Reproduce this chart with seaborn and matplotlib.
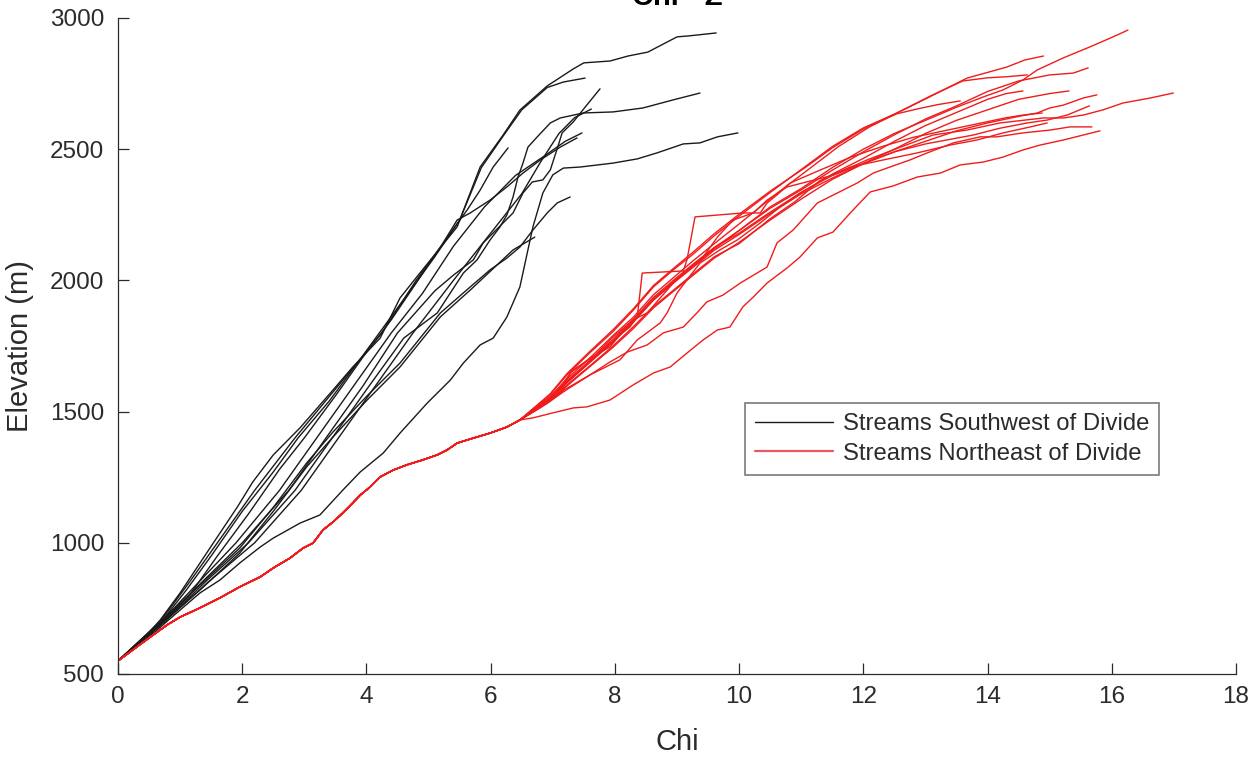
import matplotlib
matplotlib.use("Agg")
import matplotlib.pyplot as plt
import seaborn as sns
import pandas as pd
from matplotlib.lines import Line2D

# ---------------- data (chi, elevation in m) ----------------
SW1 = [(0, 550), (0.35, 620), (0.68, 706), (1.0, 809), (1.48, 980), (1.92, 1136), (2.17, 1232), (2.5, 1335),
       (2.93, 1438), (3.46, 1582), (3.78, 1670), (4.22, 1780), (4.54, 1933), (4.86, 2028), (5.46, 2204),
       (5.83, 2432), (6.2, 2554), (6.47, 2649), (6.91, 2741), (7.33, 2806), (7.5, 2829), (7.92, 2836),
       (8.21, 2855), (8.53, 2870), (9.0, 2928), (9.2, 2932), (9.63, 2943)]
SW2 = [(0, 550), (0.7, 700), (1.1, 820), (1.5, 950), (2.0, 1120), (2.5, 1270), (2.9, 1400), (3.4, 1540),
       (3.9, 1700), (4.3, 1830), (4.7, 1960), (5.1, 2090), (5.5, 2230), (5.85, 2430), (6.2, 2550), (6.5, 2650),
       (6.91, 2735), (7.17, 2756), (7.52, 2771)]
SW3 = [(0, 550), (0.72, 700), (1.35, 850), (2.0, 1000), (2.75, 1200), (3.35, 1400), (3.95, 1600), (4.5, 1800),
       (5.1, 1960), (5.4, 2020), (5.72, 2078), (5.88, 2143), (6.04, 2181), (6.2, 2219), (6.36, 2257),
       (6.52, 2333), (6.67, 2375), (6.84, 2383), (6.96, 2421), (7.09, 2516), (7.15, 2562), (7.33, 2604),
       (7.55, 2669), (7.76, 2730)]
SW4 = [(0, 550), (0.75, 700), (1.4, 850), (2.1, 1000), (2.85, 1200), (3.45, 1400), (4.05, 1600), (4.6, 1780),
       (5.14, 1876), (5.35, 1952), (5.56, 2028), (5.78, 2078), (5.99, 2154), (6.15, 2204), (6.26, 2249),
       (6.36, 2318), (6.44, 2394), (6.52, 2447), (6.6, 2508), (6.75, 2547), (6.96, 2600), (7.12, 2619),
       (7.49, 2638), (7.97, 2642), (8.45, 2657), (8.94, 2688), (9.37, 2714)]
SW5 = [(0, 550), (0.63, 668), (1.0, 744), (1.32, 809), (1.64, 858), (1.96, 923), (2.29, 984), (2.5, 1018),
       (2.93, 1075), (3.25, 1106), (3.62, 1201), (3.9, 1270), (4.27, 1342), (4.54, 1418), (4.98, 1533),
       (5.35, 1620), (5.56, 1685), (5.83, 1754), (6.04, 1780), (6.26, 1860), (6.47, 1975), (6.68, 2204),
       (6.84, 2333), (7.0, 2402), (7.17, 2428), (7.44, 2432), (7.97, 2447), (8.36, 2463), (8.68, 2486),
       (9.1, 2520), (9.37, 2524), (9.65, 2547), (9.98, 2562)]
SW6 = [(0, 550), (0.7, 690), (1.15, 800), (1.6, 950), (2.1, 1110), (2.6, 1280), (3.0, 1400), (3.5, 1560),
       (3.95, 1710), (4.4, 1850), (4.8, 1990), (5.2, 2130), (5.62, 2268), (5.83, 2344), (6.04, 2432),
       (6.28, 2505)]
SW7 = [(0, 550), (0.7, 700), (1.3, 850), (1.9, 1000), (2.6, 1200), (3.2, 1400), (3.8, 1600), (4.4, 1800),
       (4.9, 1950), (5.4, 2130), (5.9, 2280), (6.4, 2400), (6.9, 2480), (7.2, 2530), (7.47, 2562)]
SW8 = [(0, 550), (0.68, 700), (1.15, 850), (1.6, 1000), (2.2, 1200), (2.85, 1400), (3.55, 1600), (4.25, 1800),
       (4.8, 2000), (5.2, 2130), (5.46, 2230), (5.67, 2257), (5.99, 2306), (6.26, 2356), (6.52, 2409),
       (6.8, 2459), (7.12, 2508), (7.39, 2543)]
SW9 = [(0, 550), (0.68, 699), (1.32, 839), (1.96, 980), (2.5, 1135), (3.04, 1305), (3.46, 1422), (4.01, 1560),
       (4.54, 1685), (5.19, 1876), (5.67, 1975), (5.99, 2040), (6.26, 2085), (6.47, 2127), (6.68, 2192),
       (6.91, 2257), (7.07, 2295), (7.28, 2318)]
SW10 = [(0, 550), (0.68, 687), (1.32, 820), (1.96, 961), (2.5, 1120), (3.04, 1290), (3.46, 1403),
        (4.01, 1544), (4.54, 1670), (5.19, 1861), (5.67, 1963), (6.36, 2116), (6.71, 2165)]
SW11 = [(0, 550), (0.75, 700), (1.45, 850), (2.2, 1000), (2.95, 1200), (3.55, 1400), (4.15, 1600),
        (4.75, 1800), (5.4, 2000), (6.0, 2180), (6.5, 2330), (6.8, 2450), (7.1, 2560), (7.35, 2620),
        (7.62, 2653)]

NE_TRUNK = [(0, 550), (0.24, 592), (0.52, 641), (0.79, 687), (1.0, 717), (1.32, 752), (1.64, 790),
            (1.96, 832), (2.29, 870), (2.5, 904), (2.77, 942), (2.98, 980), (3.14, 999), (3.3, 1049),
            (3.46, 1079), (3.62, 1114), (3.78, 1152), (3.9, 1182), (4.06, 1213), (4.22, 1251), (4.43, 1277),
            (4.65, 1297), (4.91, 1316), (5.14, 1335), (5.3, 1354), (5.46, 1380), (5.72, 1399), (5.99, 1418),
            (6.26, 1441), (6.47, 1468)]
NE1 = [(6.96, 1550), (7.23, 1612), (7.6, 1690), (7.97, 1765), (8.29, 1840), (8.62, 1925), (8.94, 1990),
       (9.26, 2055), (9.6, 2120), (10.0, 2190), (10.5, 2280), (11.0, 2350), (11.5, 2430), (12.0, 2500),
       (12.5, 2560), (13.0, 2610), (13.5, 2660), (13.93, 2699), (14.25, 2726), (14.57, 2764), (14.8, 2802),
       (15.22, 2848), (15.65, 2890), (16.02, 2928), (16.26, 2954)]
NE2 = [(6.96, 1565), (7.23, 1640), (7.6, 1725), (7.97, 1805), (8.29, 1885), (8.62, 1975), (8.94, 2040),
       (9.26, 2100), (9.6, 2170), (10.0, 2245), (10.5, 2335), (11.1, 2440), (11.5, 2510), (12.0, 2581),
       (12.54, 2638), (13.03, 2695), (13.67, 2771), (14.31, 2813), (14.6, 2840), (14.9, 2855)]
NE3 = [(6.96, 1558), (7.23, 1625), (7.6, 1705), (7.97, 1790), (8.29, 1858), (8.62, 1945), (8.94, 2010),
       (9.26, 2075), (9.6, 2140), (10.0, 2215), (10.6, 2330), (11.1, 2420), (11.6, 2510), (12.1, 2585),
       (12.6, 2645), (13.1, 2705), (13.6, 2760), (14.0, 2772), (14.3, 2776), (14.64, 2783)]
NE4 = [(6.96, 1552), (7.23, 1615), (7.6, 1692), (7.97, 1770), (8.29, 1845), (8.62, 1930), (8.94, 1995),
       (9.26, 2060), (9.6, 2125), (10.0, 2190), (10.5, 2275), (11.0, 2345), (11.5, 2420), (12.0, 2490),
       (12.5, 2555), (13.0, 2615), (13.5, 2665), (14.0, 2720), (14.5, 2760), (15.0, 2783), (15.38, 2790),
       (15.62, 2810)]
NE5 = [(6.96, 1555), (7.23, 1618), (7.6, 1695), (7.97, 1775), (8.29, 1850), (8.62, 1935), (8.94, 2000),
       (9.26, 2062), (9.6, 2125), (10.0, 2180), (10.5, 2260), (11.0, 2335), (11.5, 2405), (12.0, 2465),
       (12.5, 2530), (13.0, 2590), (13.5, 2640), (14.0, 2690), (14.3, 2712), (14.57, 2722)]
NE6 = [(6.96, 1550), (7.23, 1610), (7.6, 1688), (7.97, 1765), (8.29, 1840), (8.62, 1925), (8.94, 1990),
       (9.26, 2050), (9.6, 2115), (10.0, 2175), (10.5, 2255), (11.0, 2330), (11.5, 2390), (12.0, 2445),
       (12.5, 2500), (13.0, 2560), (13.5, 2610), (14.0, 2650), (14.5, 2690), (15.0, 2712), (15.31, 2722)]
NE7 = [(6.96, 1568), (7.23, 1645), (7.6, 1730), (7.97, 1812), (8.29, 1890), (8.62, 1980), (8.94, 2045),
       (9.26, 2108), (9.6, 2178), (10.0, 2252), (10.5, 2340), (11.1, 2436), (11.5, 2505), (12.0, 2577),
       (12.54, 2635), (12.9, 2655), (13.2, 2670), (13.56, 2684)]
NE8 = [(7.0, 1560), (7.33, 1659), (7.65, 1708), (7.97, 1784), (8.29, 1849), (8.52, 1876), (8.73, 1933),
       (8.94, 1990), (9.16, 2040), (9.42, 2089), (9.65, 2165), (9.9, 2230), (10.23, 2257), (10.45, 2306),
       (10.77, 2356), (11.0, 2370), (11.5, 2400), (12.0, 2445), (12.5, 2490), (13.0, 2530), (13.5, 2570),
       (14.0, 2600), (14.5, 2625), (14.8, 2638), (15.0, 2657), (15.22, 2668), (15.54, 2695), (15.76, 2707)]
NE9 = [(6.9, 1530), (7.2, 1580), (7.6, 1640), (8.08, 1697), (8.36, 1773), (8.73, 1838), (8.84, 1876),
       (9.0, 1952), (9.16, 2002), (9.37, 2066), (9.69, 2116), (9.97, 2154), (10.34, 2219), (10.66, 2280),
       (10.98, 2333), (11.5, 2400), (12.06, 2459), (12.6, 2508), (13.12, 2554), (13.67, 2573), (14.2, 2600),
       (14.9, 2619), (15.22, 2619), (15.54, 2630), (15.86, 2650), (16.18, 2676), (16.62, 2695), (16.99, 2714)]
NE10 = [(6.96, 1540), (7.23, 1598), (7.6, 1672), (7.97, 1745), (8.29, 1815), (8.62, 1895), (8.94, 1958),
        (9.26, 2020), (9.6, 2085), (10.0, 2145), (10.5, 2230), (11.0, 2310), (11.5, 2385), (12.0, 2445),
        (12.5, 2490), (13.0, 2520), (13.77, 2554), (14.2, 2580), (14.64, 2600), (14.96, 2611), (15.28, 2630),
        (15.64, 2665)]
NE11 = [(6.8, 1530), (7.12, 1571), (7.28, 1647), (7.6, 1704), (7.92, 1746), (8.08, 1792), (8.24, 1822),
        (8.36, 1861), (8.44, 2028), (9.1, 2036), (9.16, 2078), (9.29, 2242), (10.06, 2257), (10.34, 2257),
        (10.45, 2295), (10.61, 2326), (10.82, 2371), (11.3, 2420), (11.8, 2470), (12.3, 2510), (12.8, 2545),
        (13.3, 2570), (13.8, 2595), (14.3, 2620), (14.57, 2630), (14.88, 2638)]
NE12 = [(6.96, 1545), (7.23, 1602), (7.6, 1675), (7.97, 1750), (8.29, 1822), (8.62, 1900), (8.94, 1962),
        (9.26, 2025), (9.6, 2090), (10.0, 2140), (10.5, 2235), (10.9, 2300), (11.3, 2380), (11.79, 2432),
        (12.32, 2459), (12.87, 2486), (13.4, 2516), (13.83, 2535), (14.25, 2562), (14.69, 2585), (14.96, 2600)]
NE13 = [(6.8, 1515), (7.2, 1585), (7.6, 1640), (7.92, 1689), (8.2, 1727), (8.52, 1754), (8.78, 1800),
        (9.1, 1822), (9.32, 1876), (9.48, 1918), (9.74, 1944), (10.02, 1990), (10.45, 2051), (10.61, 2143),
        (10.87, 2192), (11.26, 2295), (11.58, 2333), (11.9, 2371), (12.16, 2409), (12.38, 2428), (12.75, 2459),
        (13.03, 2486), (13.45, 2524), (13.88, 2547), (14.15, 2547), (14.57, 2562), (15.01, 2573),
        (15.33, 2585), (15.68, 2585)]
NE14 = [(6.68, 1476), (7.0, 1495), (7.33, 1514), (7.55, 1518), (7.92, 1544), (8.29, 1601), (8.62, 1647),
        (8.89, 1670), (9.16, 1723), (9.42, 1773), (9.65, 1811), (9.85, 1822), (10.06, 1899), (10.23, 1937),
        (10.45, 1990), (10.77, 2047), (10.98, 2089), (11.26, 2162), (11.51, 2184), (11.79, 2257),
        (12.11, 2337), (12.48, 2360), (12.87, 2394), (13.24, 2409), (13.56, 2440), (13.93, 2451),
        (14.25, 2470), (14.57, 2497), (14.85, 2516), (15.22, 2535), (15.54, 2554), (15.81, 2570)]

SW_LABEL = "Streams Southwest of Divide"
NE_LABEL = "Streams Northeast of Divide"

# ---------------- build table ----------------
rows = []
sw_list = [SW1, SW2, SW3, SW4, SW5, SW6, SW7, SW8, SW9, SW10, SW11]
ne_list = [NE1, NE2, NE3, NE4, NE5, NE6, NE7, NE8, NE9, NE10, NE11, NE12, NE13, NE14]
for i, s in enumerate(sw_list):
    for k, (c, z) in enumerate(s):
        rows.append(dict(stream=f"sw{i}", group=SW_LABEL, chi=c, elev=z, order=k))
for i, s in enumerate(ne_list):
    for k, (c, z) in enumerate(NE_TRUNK + s):
        rows.append(dict(stream=f"ne{i}", group=NE_LABEL, chi=c, elev=z, order=k))
df = pd.DataFrame(rows)

# ---------------- style ----------------
sns.set_theme(style="white")
plt.rcParams["font.family"] = ["Liberation Sans", "DejaVu Sans"]
AX_COL = "#2b2b2b"

fig = plt.figure(figsize=(12.57, 7.59), dpi=100)
ax = fig.add_axes([0.0939, 0.112, 0.8894, 0.8643])

BLACK = "#1a1a1a"
RED = "#f01c1c"
sns.lineplot(data=df[df.group == SW_LABEL], x="chi", y="elev", units="stream", estimator=None,
             sort=False, color=BLACK, lw=1.0, ax=ax, legend=False)
sns.lineplot(data=df[df.group == NE_LABEL], x="chi", y="elev", units="stream", estimator=None,
             sort=False, color=RED, lw=1.0, ax=ax, legend=False)

ax.set_xlim(0, 18)
ax.set_ylim(500, 3000)
ax.set_xticks(range(0, 19, 2))
ax.set_yticks(range(500, 3001, 500))
for sp in ["top", "right"]:
    ax.spines[sp].set_visible(False)
for sp in ["left", "bottom"]:
    ax.spines[sp].set_color(AX_COL)
    ax.spines[sp].set_linewidth(0.9)
ax.tick_params(axis="both", which="major", bottom=True, left=True, top=False, right=False,
               direction="in", length=8, width=0.9, colors=AX_COL, labelsize=17.5)
ax.tick_params(axis="x", pad=9)
ax.tick_params(axis="y", pad=10)

ax.set_xlabel("Chi", fontsize=21, color=AX_COL, labelpad=14)
ax.set_ylabel("Elevation (m)", fontsize=21, color=AX_COL, labelpad=11)
ax.set_title("Chi - Z", fontsize=21, fontweight="bold", pad=9, color="black")

handles = [Line2D([], [], color=BLACK, lw=1.0), Line2D([], [], color="#e85a5e", lw=1.6)]
leg = ax.legend(handles, [SW_LABEL, NE_LABEL], loc="upper left", bbox_to_anchor=(0.5608, 0.4131),
                borderaxespad=0, frameon=True, fontsize=17.2, handlelength=3.25, handletextpad=0.42,
                labelspacing=0.32, borderpad=0.42, fancybox=False, framealpha=1)
leg.get_frame().set_edgecolor("#7a7a7a")
leg.get_frame().set_linewidth(1.2)
for t in leg.get_texts():
    t.set_color(AX_COL)

fig.savefig("out.png", dpi=100)
